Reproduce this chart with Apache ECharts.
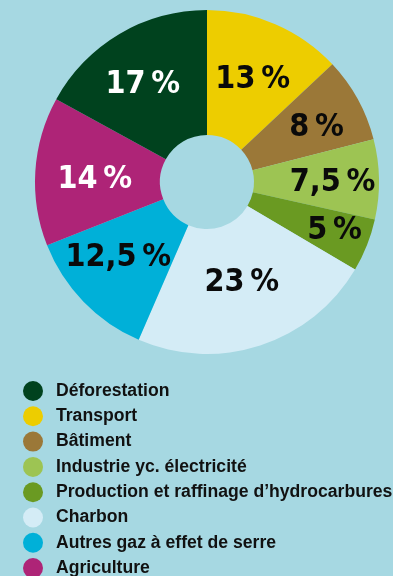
<!DOCTYPE html>
<html><head><meta charset="utf-8">
<script src="https://cdn.jsdelivr.net/npm/echarts@6/dist/echarts.min.js"></script>
<style>html,body{margin:0;padding:0;background:#a6d8e2;}#c{width:393px;height:576px;}</style>
</head><body><div id="c"></div>
<script>
const categories = ['Transport','Bâtiment','Industrie yc. électricité','Production et raffinage d’hydrocarbures','Charbon','Autres gaz à effet de serre','Agriculture','Déforestation'];
const values = [13, 8, 7.5, 5, 23, 12.5, 14, 17];
const labels = ['13\u2009%','8\u2009%','7,5\u2009%','5\u2009%','23\u2009%','12,5\u2009%','14\u2009%','17\u2009%'];
const colors = ['#edcd00','#9b7838','#9dc453','#6a9a22','#d4ecf6','#00b0d8','#ae2477','#00421e'];
const labelColors = ['#0a0a0a','#0a0a0a','#0a0a0a','#0a0a0a','#0a0a0a','#0a0a0a','#fff','#fff'];
const labelOffsets = [[1,1],[11,0],[13,2],[23,7],[0,-6],[-8,-3],[0,5],[-7,0]];
const legendOrder = ['Déforestation','Transport','Bâtiment','Industrie yc. électricité','Production et raffinage d’hydrocarbures','Charbon','Autres gaz à effet de serre','Agriculture'];

const chart = echarts.init(document.getElementById('c'), null, {renderer:'canvas'});
chart.setOption({
  backgroundColor: '#a6d8e2',
  animation: false,
  legend: {
    data: legendOrder,
    orient: 'vertical',
    left: 23, top: 381, height: 200,
    padding: 0,
    icon: 'circle',
    itemWidth: 20, itemHeight: 20, itemGap: 5.3,
    selectedMode: false,
    textStyle: {fontFamily: 'Liberation Sans, Arial, sans-serif', fontWeight: 'bold', fontSize: 17.6, color: '#111', padding: [0,0,0,8]}
  },
  series: [{
    type: 'pie',
    center: [207, 182],
    radius: [47, 172],
    startAngle: 90,
    clockwise: true,
    silent: true,
    label: {
      position: 'inside',
      fontFamily: '"DejaVu Sans", sans-serif',
      fontWeight: 'bold condensed',
      fontSize: 32,
      formatter: p => labels[p.dataIndex]
    },
    labelLine: {show: false},
    itemStyle: {borderWidth: 0},
    data: categories.map((c,i)=>({name:c, value: values[i], itemStyle:{color: colors[i]}, label:{color: labelColors[i], offset: labelOffsets[i]}}))
  }]
});
</script>
</body></html>
